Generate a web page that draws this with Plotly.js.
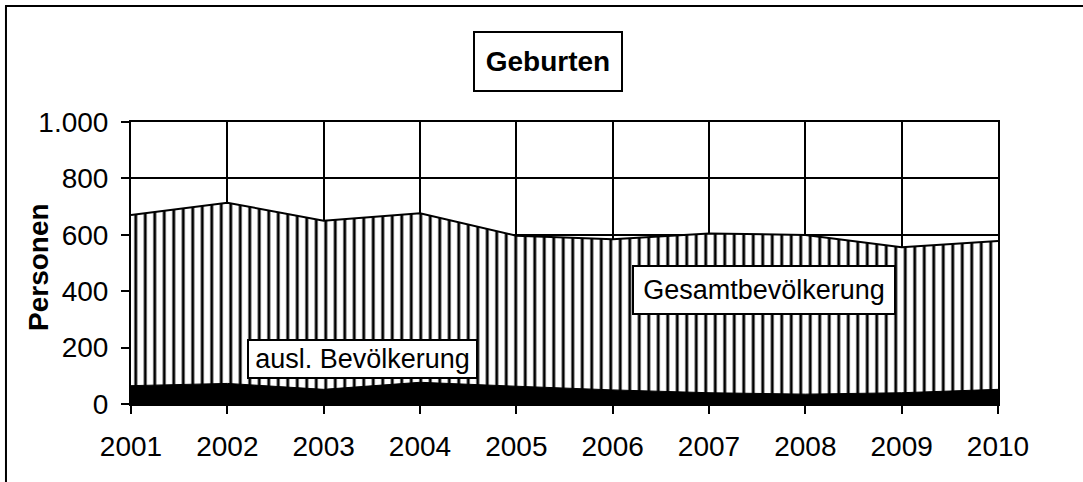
<!DOCTYPE html>
<html>
<head>
<meta charset="utf-8">
<script src="https://cdn.plot.ly/plotly-3.0.1.min.js"></script>
<style>
  html, body { margin: 0; padding: 0; background: #fff; }
  #chart { width: 1083px; height: 482px; }
</style>
</head>
<body>
<div id="chart"></div>
<script>
const years = [2001, 2002, 2003, 2004, 2005, 2006, 2007, 2008, 2009, 2010];
const gesamt = [670, 714, 650, 676, 597, 584, 605, 599, 556, 578];
const auslaender = [65, 73, 52, 77, 63, 50, 40, 35, 40, 52];
const yTicks = [0, 200, 400, 600, 800, 1000];

const FONT = 'Liberation Sans, Arial, sans-serif';

const traces = [
  {
    x: years, y: gesamt, type: 'scatter', mode: 'lines',
    name: 'Gesamtbevölkerung',
    line: {color: '#000', width: 2},
    fill: 'tozeroy',
    fillcolor: '#fff',
    fillpattern: {shape: '|', size: 9.5, solidity: 0.3, fgcolor: '#000', bgcolor: '#fff'},
    hoverinfo: 'skip'
  },
  {
    x: years, y: auslaender, type: 'scatter', mode: 'lines',
    name: 'ausl. Bevölkerung',
    line: {color: '#000', width: 1},
    fill: 'tozeroy',
    fillcolor: '#000',
    hoverinfo: 'skip'
  }
];

const layout = {
  width: 1083, height: 482,
  margin: {l: 131, r: 85, t: 122, b: 78},
  paper_bgcolor: '#fff', plot_bgcolor: '#fff',
  showlegend: false,
  separators: ',.',
  font: {family: FONT, color: '#000', size: 28},
  xaxis: {
    range: [2001, 2010],
    tickvals: years,
    ticktext: years.map(String),
    ticks: 'outside', ticklen: 8, tickwidth: 2, tickcolor: '#000',
    showgrid: true, gridcolor: '#000', gridwidth: 2,
    showline: true, linecolor: '#000', linewidth: 2, mirror: true,
    zeroline: false,
    ticklabelstandoff: 8,
    tickfont: {family: FONT, size: 28, color: '#000'}
  },
  yaxis: {
    range: [0, 1000],
    tickvals: yTicks,
    tickformat: ',d',
    ticks: 'outside', ticklen: 8, tickwidth: 2, tickcolor: '#000',
    showgrid: true, gridcolor: '#000', gridwidth: 2,
    showline: true, linecolor: '#000', linewidth: 2, mirror: true,
    zeroline: false,
    ticklabelstandoff: 7,
    tickfont: {family: FONT, size: 28, color: '#000'}
  },
  shapes: [
    {type: 'line', xref: 'paper', yref: 'paper', x0: -0.1442, x1: -0.1442, y0: 1.411, y1: -0.3, line: {color: '#000', width: 2}},
    {type: 'line', xref: 'paper', yref: 'paper', x0: -0.1453, x1: 1.2, y0: 1.411, y1: 1.411, line: {color: '#000', width: 2}}
  ],
  annotations: [
    {text: '<b>Geburten</b>', xref: 'paper', yref: 'paper', x: 0.481, y: 1.216,
     xanchor: 'center', yanchor: 'middle', showarrow: false,
     font: {family: FONT, size: 28, color: '#000'},
     bgcolor: '#fff', bordercolor: '#000', borderwidth: 2, borderpad: 3,
     width: 140, height: 51},
    {text: '<b>Personen</b>', xref: 'paper', yref: 'paper', x: -0.1061, y: 0.486,
     xanchor: 'center', yanchor: 'middle', showarrow: false, textangle: -90,
     font: {family: FONT, size: 28, color: '#000'}},
    {text: 'ausl. Bevölkerung', xref: 'paper', yref: 'paper', x: 0.267, y: 0.1596,
     xanchor: 'center', yanchor: 'middle', showarrow: false,
     font: {family: FONT, size: 27, color: '#000'},
     bgcolor: '#fff', bordercolor: '#000', borderwidth: 2, borderpad: 1,
     width: 225, height: 34},
    {text: 'Gesamtbevölkerung', xref: 'paper', yref: 'paper', x: 0.730, y: 0.404,
     xanchor: 'center', yanchor: 'middle', showarrow: false,
     font: {family: FONT, size: 27, color: '#000'},
     bgcolor: '#fff', bordercolor: '#000', borderwidth: 2, borderpad: 1,
     width: 258, height: 44}
  ]
};

Plotly.newPlot('chart', traces, layout, {staticPlot: true, displayModeBar: false});
</script>
</body>
</html>
